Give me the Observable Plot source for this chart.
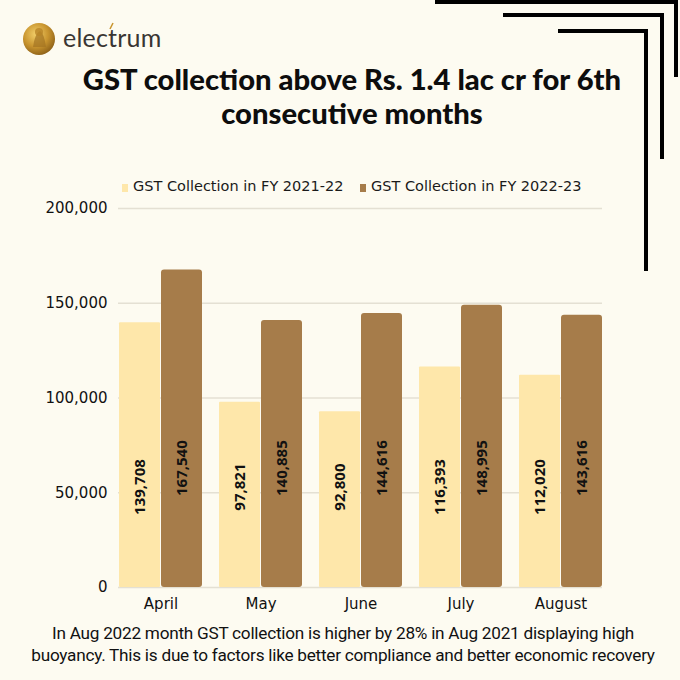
<!DOCTYPE html>
<html>
<head>
<meta charset="utf-8">
<script src="https://cdn.jsdelivr.net/npm/d3@7"></script>
<script src="https://cdn.jsdelivr.net/npm/@observablehq/plot@0.6"></script>
<style>
  html, body { margin: 0; padding: 0; background: #fdfbf1; }
  #page { position: relative; width: 680px; height: 680px; background: #fdfbf1; overflow: hidden; }
  .abs { position: absolute; }
  #brand { left: 63px; top: 22px; font-family: Lato, sans-serif; font-size: 25px; color: #3a3633; letter-spacing: 0.2px; }
  #title { left: 0; width: 704px; top: 62px; text-align: center; font-family: Lato, sans-serif; font-weight: 900; font-size: 29.2px; line-height: 34px; color: #0d0d0d; }
  #legend { top: 178px; left: 0; width: 680px; font-family: "DejaVu Sans", sans-serif; font-size: 14.5px; color: #1a1a1a; }
  .sw { position: absolute; width: 6px; height: 8px; top: 6px; }
  .lt { position: absolute; top: 0; white-space: nowrap; }
  #note { left: 0; width: 686px; top: 622px; text-align: center; font-family: Roboto, sans-serif; font-size: 17.2px; letter-spacing: -0.25px; line-height: 22px; color: #111; }
  #chart { left: 0; top: 190px; }
</style>
</head>
<body>
<div id="page">
  <svg class="abs" style="left:0;top:0" width="680" height="680">
    <defs>
      <radialGradient id="gold" cx="40%" cy="35%" r="70%">
        <stop offset="0%" stop-color="#f2cf6a"/>
        <stop offset="55%" stop-color="#c9952f"/>
        <stop offset="100%" stop-color="#8a5e17"/>
      </radialGradient>
    </defs>
    <circle cx="39" cy="39" r="16" fill="url(#gold)"/>
    <path d="M33 47 q2 -14 7 -16 q4 2 6 16 z" fill="#a27322" opacity="0.7"/>
    <circle cx="39" cy="32" r="4" fill="#b88427" opacity="0.8"/>
    <g stroke="#000" stroke-width="4" fill="none">
      <polyline points="435,2 676,2 676,77"/>
      <polyline points="503,15 662,15 662,159"/>
      <polyline points="558,31 646,31 646,271"/>
    </g>
    <path d="M110 29 l3 -6" stroke="#c9952f" stroke-width="1.6"/>
  </svg>
  <div id="brand" class="abs">electrum</div>
  <div id="title" class="abs">GST collection above Rs. 1.4 lac cr for 6th<br>consecutive months</div>
  <div id="legend" class="abs"></div>
  <div id="chart" class="abs"></div>
  <div id="note" class="abs">In Aug 2022 month GST collection is higher by 28% in Aug 2021 displaying high<br>buoyancy. This is due to factors like better compliance and better economic recovery</div>
</div>
<script>
const months = ["April", "May", "June", "July", "August"];
const fy2122 = [139708, 97821, 92800, 116393, 112020];
const fy2223 = [167540, 140885, 144616, 148995, 143616];
const yTicks = [0, 50000, 100000, 150000, 200000];
const seriesNames = ["GST Collection in FY 2021-22", "GST Collection in FY 2022-23"];
const seriesColors = ["#fee7aa", "#a67c4a"];
const labelAnchor = [53000, 63000];

const rows21 = months.map((m, i) => ({month: m, value: fy2122[i]}));
const rows22 = months.map((m, i) => ({month: m, value: fy2223[i]}));
const fmt = d3.format(",");

// legend
const legend = document.getElementById("legend");
const legendX = [[122, 133], [360, 371]];
seriesNames.forEach((name, i) => {
  const sw = document.createElement("div");
  sw.className = "sw"; sw.style.left = legendX[i][0] + "px"; sw.style.background = seriesColors[i];
  const t = document.createElement("div");
  t.className = "lt"; t.style.left = legendX[i][1] + "px"; t.textContent = name;
  legend.append(sw, t);
});

const chart = Plot.plot({
  width: 680,
  height: 430,
  marginTop: 18,
  marginBottom: 33,
  marginLeft: 118,
  marginRight: 78,
  style: {background: "transparent", fontFamily: "DejaVu Sans, sans-serif", fontSize: "15px", color: "#111"},
  x: {domain: months, paddingInner: 0.17, paddingOuter: 0, label: null, tickSize: 0, tickPadding: 11},
  y: {domain: [0, 200000], ticks: yTicks, tickFormat: fmt, label: null, tickSize: 0, tickPadding: 11},
  marks: [
    Plot.ruleY(yTicks, {stroke: "#e4e0d3", strokeWidth: 1.5}),
    Plot.barY(rows21, {x: "month", y: "value", fill: seriesColors[0], insetRight: 42, rx: 1}),
    Plot.barY(rows22, {x: "month", y: "value", fill: seriesColors[1], insetLeft: 42, rx: 3}),
    Plot.text(rows21, {x: "month", y: () => labelAnchor[0], text: d => fmt(d.value), rotate: -90, dx: -21, fontWeight: "bold", fontSize: 15, fill: "#111", fontFamily: "Open Sans, sans-serif"}),
    Plot.text(rows22, {x: "month", y: () => labelAnchor[1], text: d => fmt(d.value), rotate: -90, dx: 21, fontWeight: "bold", fontSize: 15, fill: "#111", fontFamily: "Open Sans, sans-serif"})
  ]
});
document.getElementById("chart").append(chart);
</script>
</body>
</html>
